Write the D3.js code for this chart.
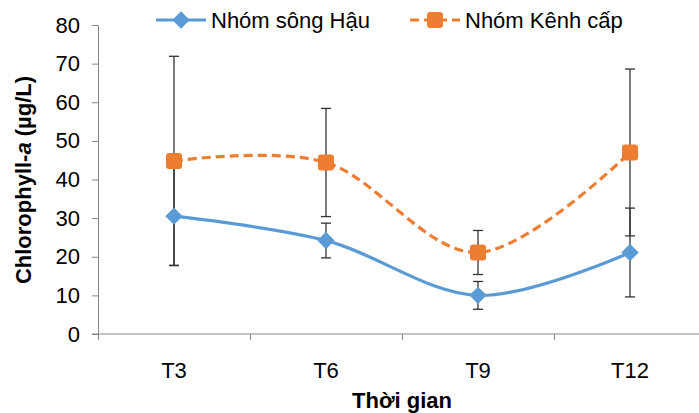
<!DOCTYPE html>
<html>
<head>
<meta charset="utf-8">
<script src="https://cdn.jsdelivr.net/npm/d3@7"></script>
<style>
  body { margin: 0; background: #fff; }
  svg { font-family: "Liberation Sans", Arial, sans-serif; }
</style>
</head>
<body>
<div id="chart"></div>
<script>
'use strict';

// ── Data ──────────────────────────────────────────────────────
const categories = ['T3', 'T6', 'T9', 'T12'];
const yTicks     = [0, 10, 20, 30, 40, 50, 60, 70, 80];

// Nhóm sông Hậu: mean and ± error
const hauMean = [30.5, 24.2, 10.0, 21.1];
const hauErr  = [12.7, 4.5, 3.6, 11.5];

// Nhóm Kênh cấp: mean and ± error
const kenhMean = [44.8, 44.4, 21.1, 47.0];
const kenhErr  = [27.1, 14.0, 5.7, 21.6];

// ── Layout ────────────────────────────────────────────────────
const totalW = 699, totalH = 413;
const plot = { left: 98, right: 706, top: 25, bottom: 334 };
const AXIS = '#868686';

const svg = d3.select('#chart').append('svg')
    .attr('width', totalW)
    .attr('height', totalH);

const x = d3.scaleBand()
    .domain(categories)
    .range([plot.left, plot.right]);
const cx = c => x(c) + x.bandwidth() / 2;

const y = d3.scaleLinear()
    .domain([0, 80])
    .range([plot.bottom, plot.top]);

// ── Axes ──────────────────────────────────────────────────────
const yAxis = svg.append('g')
    .attr('transform', `translate(${plot.left},0)`)
    .call(d3.axisLeft(y).tickValues(yTicks).tickSize(6).tickPadding(12).tickSizeOuter(0));
yAxis.select('.domain').attr('stroke', AXIS);
yAxis.selectAll('.tick line').attr('stroke', AXIS);
yAxis.selectAll('.tick text')
    .attr('font-size', 22)
    .attr('fill', '#000')
    .attr('font-family', '"Liberation Sans", Arial, sans-serif');

// x axis line runs to the right edge of the picture
svg.append('line')
    .attr('x1', plot.left - 6).attr('x2', totalW)
    .attr('y1', plot.bottom).attr('y2', plot.bottom)
    .attr('stroke', AXIS);

// tick marks on category boundaries
svg.selectAll('line.xtick')
    .data(categories)
    .join('line')
    .attr('class', 'xtick')
    .attr('x1', d => Math.round(x(d)) + 0.5)
    .attr('x2', d => Math.round(x(d)) + 0.5)
    .attr('y1', plot.bottom)
    .attr('y2', plot.bottom + 6)
    .attr('stroke', AXIS);

svg.selectAll('text.xlabel')
    .data(categories)
    .join('text')
    .attr('class', 'xlabel')
    .attr('x', d => cx(d))
    .attr('y', 378)
    .attr('text-anchor', 'middle')
    .attr('font-size', 22)
    .text(d => d);

// axis titles
svg.append('text')
    .attr('x', (plot.left + plot.right) / 2)
    .attr('y', 408)
    .attr('text-anchor', 'middle')
    .attr('font-size', 22)
    .attr('font-weight', 'bold')
    .text('Thời gian');

const yTitle = svg.append('text')
    .attr('transform', 'translate(31,180) rotate(-90)')
    .attr('text-anchor', 'middle')
    .attr('font-size', 22)
    .attr('font-weight', 'bold');
yTitle.append('tspan').text('Chlorophyll-');
yTitle.append('tspan').attr('font-style', 'italic').text('a');
yTitle.append('tspan').text(' (µg/L)');

// ── Series ────────────────────────────────────────────────────
const series = [
    { name: 'Nhóm sông Hậu', mean: hauMean,  err: hauErr,  color: '#5B9BD5', dash: null,  marker: 'diamond' },
    { name: 'Nhóm Kênh cấp', mean: kenhMean, err: kenhErr, color: '#ED7D31', dash: '9,5', marker: 'square' }
];

// error bars first, lines and markers on top
series.forEach(s => {
    const g = svg.append('g').attr('stroke', '#333').attr('stroke-width', 1.3);
    categories.forEach((c, i) => {
        const px = cx(c);
        const hi = y(s.mean[i] + s.err[i]);
        const lo = y(s.mean[i] - s.err[i]);
        g.append('line').attr('x1', px).attr('x2', px).attr('y1', hi).attr('y2', lo);
        g.append('line').attr('x1', px - 5).attr('x2', px + 5).attr('y1', hi).attr('y2', hi);
        g.append('line').attr('x1', px - 5).attr('x2', px + 5).attr('y1', lo).attr('y2', lo);
    });
});

const line = d3.line()
    .x((d, i) => cx(categories[i]))
    .y(d => y(d))
    .curve(d3.curveCardinal.tension(0));

const diamond = d3.symbol().type(d3.symbolSquare).size(150);

function drawMarker(g, type, color, px, py) {
    if (type === 'diamond') {
        g.append('path')
            .attr('d', diamond())
            .attr('transform', `translate(${px},${py}) rotate(45)`)
            .attr('fill', color);
    } else {
        g.append('rect')
            .attr('x', px - 8).attr('y', py - 8)
            .attr('width', 16).attr('height', 16)
            .attr('rx', 3)
            .attr('fill', color);
    }
}

series.forEach(s => {
    svg.append('path')
        .datum(s.mean)
        .attr('d', line)
        .attr('fill', 'none')
        .attr('stroke', s.color)
        .attr('stroke-width', 3.2)
        .attr('stroke-dasharray', s.dash);
    const g = svg.append('g');
    s.mean.forEach((v, i) => drawMarker(g, s.marker, s.color, cx(categories[i]), y(v)));
});

// ── Legend ────────────────────────────────────────────────────
const legendX = [156, 410];
series.forEach((s, i) => {
    const lx = legendX[i];
    const ly = 20;
    svg.append('line')
        .attr('x1', lx).attr('x2', lx + 50)
        .attr('y1', ly).attr('y2', ly)
        .attr('stroke', s.color)
        .attr('stroke-width', 3.2)
        .attr('stroke-dasharray', s.dash);
    drawMarker(svg, s.marker, s.color, lx + 25, ly);
    svg.append('text')
        .attr('x', lx + 55)
        .attr('y', ly + 8)
        .attr('font-size', 22)
        .text(s.name);
});
</script>
</body>
</html>
